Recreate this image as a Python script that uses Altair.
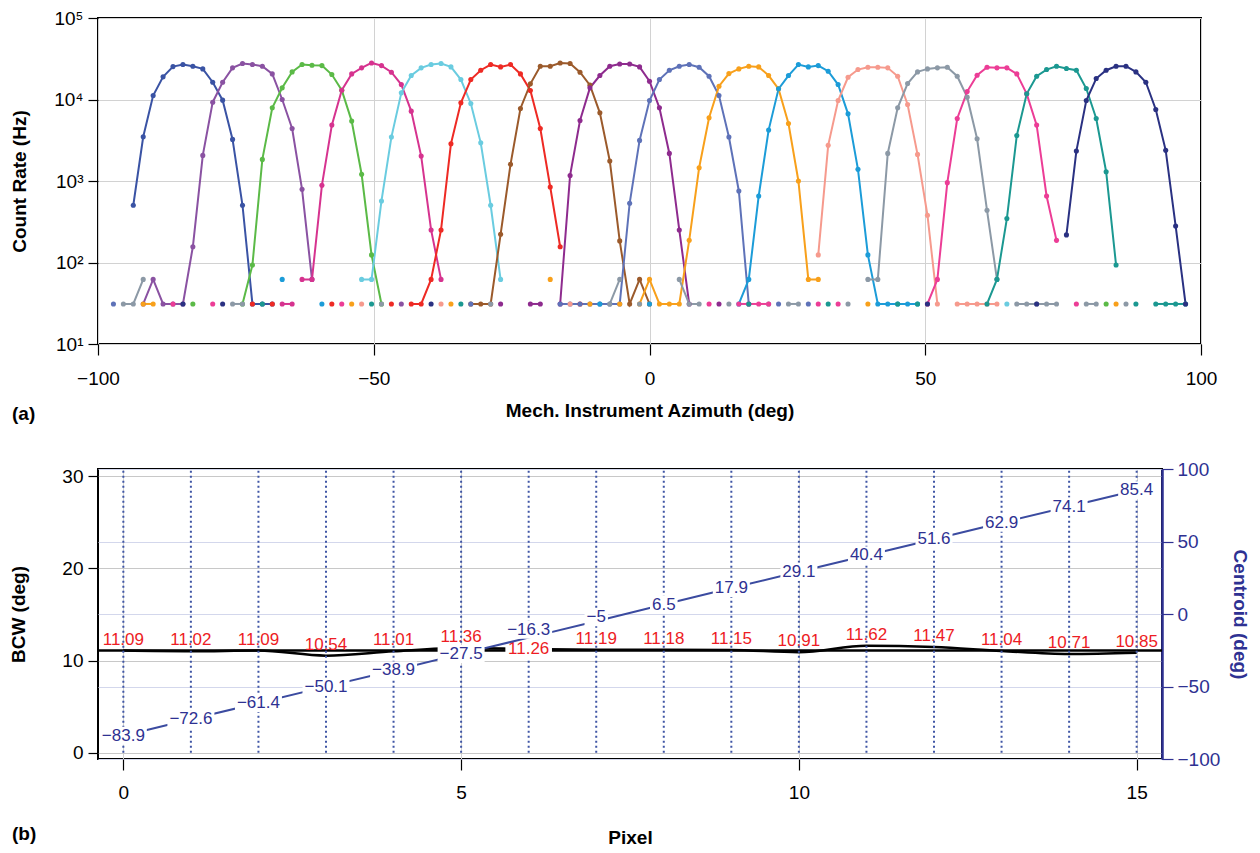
import altair as alt
import pandas as pd

# ---------------- top panel: angular scans of 16 pixels ----------------
SCAN_START = -97.2      # first azimuth of the scan grid (deg)
SCAN_STEP = 1.8         # scan step (deg)

PIXEL_NAMES = [f"P{i}" for i in range(16)]
PIXEL_COLORS = ["#3A53A4", "#8A52A2", "#5BBA47", "#D6338F", "#6ACCE0", "#EE2A24",
                "#9B5A2B", "#8E2B8E", "#5E72B8", "#F8A01B", "#1C9CD8", "#F69A8D",
                "#8C99A6", "#EC3D96", "#1B9891", "#2A3182"]

# each segment: (index on scan grid of first point, count rates in Hz)
P00 = [(2, [504, 3490, 11200, 18950, 25350, 26840, 25600, 23750, 16300, 9820, 3240, 504, 31, 31, 31])]
P01 = [(3, [31, 62, 31, 31, 31, 156, 2060, 9270, 16300, 24450, 27600, 26840, 25600, 20600, 10000, 4410, 791, 62]),
       (29, [31])]
P02 = [(8, [31]),
       (13, [31, 93, 1840, 7910, 13900, 21800, 26840, 26300, 26060, 20230, 13000, 5430, 1210, 124, 31]),
       (100, [31])]
P03 = [(17, [31, 31]),
       (19, [62, 62, 885, 4850, 13000, 20600, 24450, 28100, 26060, 21600, 15260, 7200, 2020, 251, 62])]
P04 = [(25, [62, 62, 569, 3460, 12070, 19680, 24450, 26840, 27600, 25120, 17580, 8940, 2940, 504, 62]),
       (90, [31])]
P05 = [(14, [31]), (16, [31]), (22, [31]), (28, [31]),
       (30, [31, 31, 62, 251, 2870, 9100, 17580, 22860, 26840, 25120, 26840, 20600, 12890, 4410, 845, 156]),
       (47, [31])]
P06 = [(36, [31, 31, 31, 222, 1600, 7760, 15560, 25600, 25600, 28100, 27600, 21600, 15000, 6870, 1760, 184, 31, 62, 31])]
P07 = [(39, [31]), (42, [31, 31]),
       (45, [31, 1170, 5530, 13900, 19680, 25600, 27300, 27300, 25120, 16750, 7910, 2180, 251, 31]),
       (61, [31])]
P08 = [(0, [31]), (36, [31]),
       (45, [31, 31, 31, 31, 31, 31, 31, 533, 3150, 9720, 17580, 22860, 25600, 26840, 24900, 19300, 11200, 3460, 755, 31]),
       (67, [31]), (70, [31])]
P09 = [(3, [31, 31]), (24, [31]), (34, [31]), (44, [62]), (48, [31]), (51, [31]),
       (53, [31, 62, 31, 31, 31, 187, 1455, 5970, 14560, 20800, 23750, 25600, 25120, 19680, 13510, 5080, 1000, 62, 62]),
       (76, [31]), (101, [31])]
P10 = [(17, [62]), (21, [31]), (49, [31]), (54, [31]),
       (63, [31, 62, 655, 4210, 13510, 19680, 26840, 25120, 26060, 22230, 15260, 6670, 1390, 124, 31, 31, 31, 31, 31])]
P11 = [(25, [31]), (33, [31]), (46, [31]),
       (71, [124, 2740, 9720, 18750, 23300, 24900, 24900, 24450, 19300, 8690, 2120, 380, 31]),
       (85, [31, 31, 31, 31, 31])]
P12 = [(1, [31, 31, 62]), (12, [31, 31]), (27, [31]), (38, [31]), (50, [31, 62]), (53, [31]),
       (57, [62, 31, 31]), (62, [31]), (66, [31]), (68, [31, 31]), (74, [31]),
       (76, [62, 62, 2180, 7910, 15700, 21800, 23750, 24450, 24900, 19300, 10680, 3300, 437, 62]),
       (91, [31, 31, 31, 31, 31]), (98, [31, 31]), (102, [31])]
P13 = [(6, [31]), (10, [31]), (23, [31]), (60, [31]), (63, [31, 31, 31, 31]), (71, [31]), (73, [31]),
       (82, [31, 62, 955, 5850, 12500, 19870, 24900, 24450, 24450, 20600, 11730, 4850, 655, 187]),
       (97, [31])]
P14 = [(15, [31]), (26, [31]), (35, [31]), (64, [31]), (72, [31]), (79, [31]), (81, [31]),
       (88, [31, 62, 346, 3620, 11730, 19300, 23300, 25600, 23990, 22860, 13630, 5850, 1300, 93]),
       (103, [31]), (105, [31, 31, 31, 31])]
P15 = [(7, [31]), (11, [31]), (32, [31]), (82, [31]), (93, [31]),
       (96, [218, 2330, 9720, 18070, 22860, 25600, 25600, 21800, 16300, 7550, 2380, 281, 31])]

SERIES = [P00, P01, P02, P03, P04, P05, P06, P07, P08, P09, P10, P11, P12, P13, P14, P15]

# ---------------- bottom panel: per-pixel results ----------------
PIXELS = list(range(16))
BCW = [11.09, 11.02, 11.09, 10.54, 11.01, 11.36, 11.26, 11.19, 11.18, 11.15, 10.91, 11.62, 11.47, 11.04, 10.71, 10.85]
CENTROID = [-83.9, -72.6, -61.4, -50.1, -38.9, -27.5, -16.3, -5, 6.5, 17.9, 29.1, 40.4, 51.6, 62.9, 74.1, 85.4]
BCW_LABEL_ON_POINT = [6]            # BCW label drawn (boxed) on its point instead of above it
CENTROID_LABEL_RAISED = {6: -8, 7: -4}   # label placement: pixel -> extra upward shift (px)

FONT = "Liberation Sans, Arial, sans-serif"
NAVY = "#2E3192"
LINE_BLUE = "#3B4BA0"
DOT_BLUE = "#3F55A5"
RED = "#ED1C24"
ANN_SIZE = 17

rows = []
for p, segs in enumerate(SERIES):
    for s, (start, vals) in enumerate(segs):
        for j, v in enumerate(vals):
            rows.append({"pixel": PIXEL_NAMES[p], "seg": f"{p}_{s}",
                         "angle": round(SCAN_START + SCAN_STEP * (start + j), 3), "rate": v})
scan = pd.DataFrame(rows)

x_top = alt.X("angle:Q", scale=alt.Scale(domain=[-100, 100], nice=False, zero=False),
              axis=alt.Axis(values=[-100, -50, 0, 50, 100], title="Mech. Instrument Azimuth (deg)",
                            tickSize=11, labelPadding=14, titlePadding=13, grid=True, domain=False))
y_top = alt.Y("rate:Q", scale=alt.Scale(type="log", domain=[10, 100000], nice=False),
              axis=alt.Axis(values=[10, 100, 1000, 10000, 100000], title="Count Rate (Hz)",
                            labelExpr="datum.value == 10 ? '10¹' : datum.value == 100 ? '10²' : datum.value == 1000 ? '10³' : datum.value == 10000 ? '10⁴' : '10⁵'",
                            tickSize=10, labelPadding=5, titlePadding=24, grid=True, domain=False))
col = alt.Color("pixel:N", scale=alt.Scale(domain=PIXEL_NAMES, range=PIXEL_COLORS), legend=None)

top_lines = alt.Chart(scan).mark_line(strokeWidth=2).encode(x=x_top, y=y_top, color=col, detail="seg:N")
top_pts = alt.Chart(scan).mark_circle(size=26, opacity=1).encode(x=x_top, y=y_top, color=col)
tag_a = alt.Chart(pd.DataFrame({"t": ["(a)"]})).mark_text(
    font=FONT, fontSize=19, fontWeight="bold", align="left", baseline="middle", color="black"
).encode(text="t:N", x=alt.value(-86), y=alt.value(396))
top = alt.layer(top_lines, top_pts, tag_a).properties(width=1103, height=326)


def box_path(label, char_w=ANN_SIZE * 0.556, pad=2, half_h=9):
    w = 0.0
    for ch in label:
        w += char_w * (0.5 if ch == "." else 1.05 if ch == "-" else 1.0)
    hw = w / 2 + pad
    return f"M{-hw:.1f},{-half_h}L{hw:.1f},{-half_h}L{hw:.1f},{half_h}L{-hw:.1f},{half_h}Z"


res = pd.DataFrame({"pixel": PIXELS, "bcw": BCW, "centroid": CENTROID})
res["bcw_box"] = [box_path(f"{v:.2f}") for v in BCW]
res["cen_box"] = [box_path(f"{v:g}") for v in CENTROID]
res["on_point"] = [p in BCW_LABEL_ON_POINT for p in PIXELS]
res["raise"] = [CENTROID_LABEL_RAISED.get(p, 0) for p in PIXELS]

x_b = alt.X("pixel:Q", scale=alt.Scale(domain=[-0.375, 15.375], nice=False, zero=False),
            axis=alt.Axis(values=[0, 5, 10, 15], title="Pixel", tickSize=11, labelPadding=13,
                          titlePadding=26, grid=True, domain=False))
bcw_scale = alt.Scale(domain=[-0.68, 30.8], nice=False, zero=False)
bcw_axis = alt.Axis(orient="left", values=[0, 10, 20, 30], title="BCW (deg)", tickSize=10,
                    labelPadding=5, titlePadding=33, grid=True, gridColor="#c8c8c8", domain=False)
y_l = alt.Y("bcw:Q", scale=bcw_scale, axis=bcw_axis)
cen_axis = alt.Axis(orient="right", values=[-100, -50, 0, 50, 100], title="Centroid (deg)",
                    grid=True, gridColor="#d3d7ec", domain=True, domainColor=NAVY, domainWidth=2.5,
                    tickColor=NAVY, tickSize=11, labelColor=NAVY, titleColor=NAVY, labelPadding=4,
                    titlePadding=10)
y_r = alt.Y("centroid:Q", scale=alt.Scale(domain=[-100, 100], nice=False), axis=cen_axis)

rb = alt.Chart(res)
bcw_line = rb.mark_line(color="black", strokeWidth=2.5, interpolate="monotone").encode(x=x_b, y=y_l)
mean_rule = rb.transform_aggregate(m="mean(bcw)").mark_rule(color="black", strokeWidth=2.5).encode(
    y=alt.Y("m:Q", scale=bcw_scale, axis=bcw_axis))
above = rb.transform_filter("!datum.on_point")
onpt = rb.transform_filter("datum.on_point")
bcw_txt_a = above.mark_text(font=FONT, fontSize=ANN_SIZE, color=RED, dy=-11, baseline="middle").encode(
    x=x_b, y=y_l, text=alt.Text("bcw:Q", format=".2f"))
bcw_box_o = onpt.mark_point(filled=True, fill="white", opacity=1, strokeWidth=0, size=4).encode(
    x=x_b, y=y_l, shape=alt.Shape("bcw_box:N", scale=None))
bcw_txt_o = onpt.mark_text(font=FONT, fontSize=ANN_SIZE, color=RED, baseline="middle").encode(
    x=x_b, y=y_l, text=alt.Text("bcw:Q", format=".2f"))
dots = rb.mark_rule(color=DOT_BLUE, strokeWidth=2, strokeDash=[2, 3]).encode(
    x=x_b, y=alt.datum(0), y2=alt.value(0))
tag_b = alt.Chart(pd.DataFrame({"t": ["(b)"]})).mark_text(
    font=FONT, fontSize=19, fontWeight="bold", align="left", baseline="middle", color="black"
).encode(text="t:N", x=alt.value(-86), y=alt.value(365))

left_group = alt.layer(bcw_line, mean_rule, bcw_txt_a, dots, bcw_box_o, bcw_txt_o, tag_b)

cen_layers = [rb.mark_line(color=LINE_BLUE, strokeWidth=2).encode(x=x_b, y=y_r)]
for shift in sorted(set(res["raise"])):
    sub = rb.transform_filter(f"datum.raise == {shift}")
    cen_layers.append(sub.mark_point(filled=True, fill="white", opacity=1, strokeWidth=0, size=4,
                                     yOffset=shift).encode(
        x=x_b, y=y_r, shape=alt.Shape("cen_box:N", scale=None)))
    cen_layers.append(sub.mark_text(font=FONT, fontSize=ANN_SIZE, color=NAVY, baseline="middle",
                                    dy=shift).encode(
        x=x_b, y=y_r, text=alt.Text("centroid:Q", format=".3~g")))
right_group = alt.layer(*cen_layers)

bottom = alt.layer(left_group, right_group).resolve_scale(y="independent").properties(width=1064, height=290)

chart = alt.vconcat(top, bottom, spacing=34).properties(
    padding={"left": 0, "top": 0, "right": 2, "bottom": 2}
).configure_view(stroke="black", strokeWidth=2).configure_axis(
    labelFont=FONT, titleFont=FONT, labelFontSize=19, titleFontSize=19, titleFontWeight="bold",
    labelColor="black", titleColor="black", tickColor="black", tickWidth=1.2, gridColor="#d2d2d2",
    gridWidth=1, labelFlush=False
)

chart.save("out.html", embed_options={"renderer": "svg", "actions": False})
